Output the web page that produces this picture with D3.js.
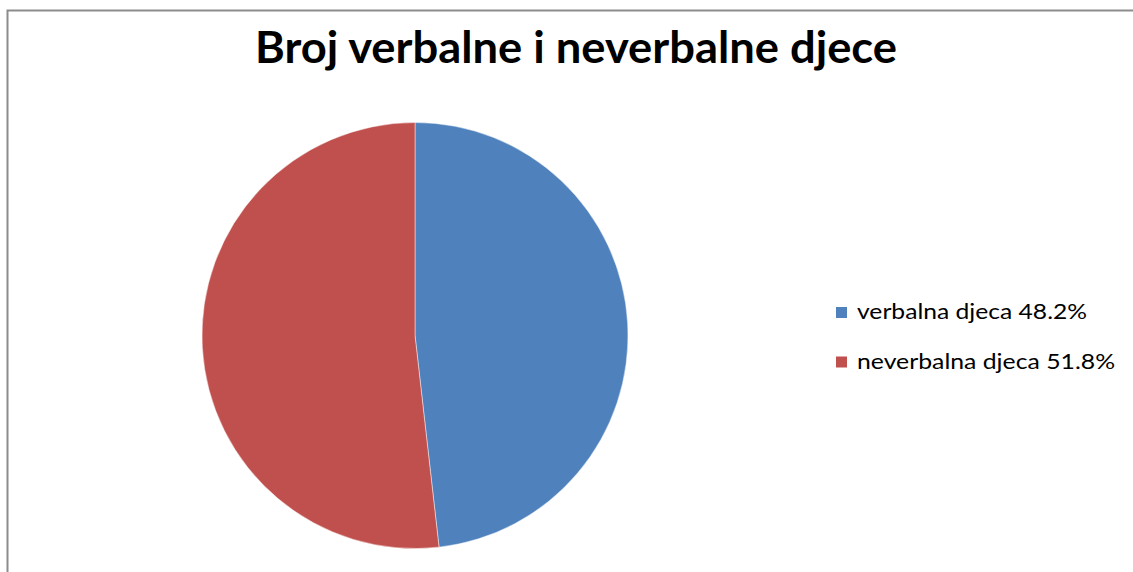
<!DOCTYPE html>
<html>
<head>
<meta charset="utf-8">
<script src="https://cdn.jsdelivr.net/npm/d3@7"></script>
<style>
  body { margin: 0; background: #fff; }
  text { font-family: Lato, "Open Sans", sans-serif; }
</style>
</head>
<body>
<div id="chart"></div>
<script>
var title = "Broj verbalne i neverbalne djece";
var categories = ["verbalna djeca", "neverbalna djeca"];
var values = [48.2, 51.8];
var colors = ["#4f81bd", "#c0504d"];
var legendWidths = [230, 258];

var width = 1133,
    height = 572;

var svg = d3.select("#chart").append("svg")
    .attr("width", width)
    .attr("height", height);

// chart frame (right and bottom edges run off the picture)
svg.append("rect")
    .attr("x", 7.5).attr("y", 10.5)
    .attr("width", 1140).attr("height", 600)
    .attr("fill", "#fff")
    .attr("stroke", "#8c8c8c")
    .attr("stroke-width", 2);

svg.append("text")
    .attr("x", 576).attr("y", 63)
    .attr("text-anchor", "middle")
    .attr("font-size", "44px")
    .attr("font-weight", "bold")
    .attr("fill", "#000")
    .attr("textLength", 642)
    .attr("lengthAdjust", "spacingAndGlyphs")
    .text(title);

var cx = 415, cy = 335.5, r = 213;

var pie = d3.pie().sort(null).value(function(d) { return d; });
var arc = d3.arc().innerRadius(0).outerRadius(r);

var g = svg.append("g").attr("transform", "translate(" + cx + "," + cy + ")");
g.selectAll("path")
    .data(pie(values))
    .enter()
        .append("path")
        .attr("d", arc)
        .attr("fill", function(d, i) { return colors[i]; })
        .attr("stroke", "#fff")
        .attr("stroke-opacity", 0.45)
        .attr("stroke-width", 1);

var legend = svg.selectAll(".legend")
    .data(categories)
    .enter()
        .append("g").attr("class", "legend")
        .attr("transform", function(d, i) { return "translate(836," + (307 + i * 49.5) + ")"; });

legend.append("rect")
    .attr("width", 11).attr("height", 11)
    .attr("fill", function(d, i) { return colors[i]; });

legend.append("text")
    .attr("x", 21).attr("y", 12)
    .attr("font-size", "22px")
    .attr("fill", "#000")
    .attr("textLength", function(d, i) { return legendWidths[i]; })
    .attr("lengthAdjust", "spacingAndGlyphs")
    .text(function(d, i) { return d + " " + values[i].toFixed(1) + "%"; });
</script>
</body>
</html>
